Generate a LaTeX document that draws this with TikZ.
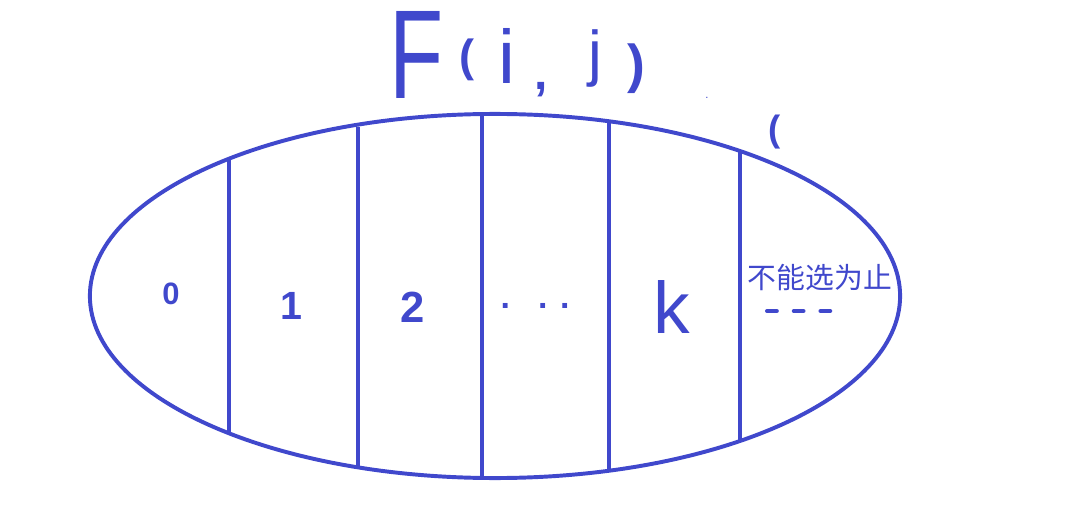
\documentclass[tikz,border=0pt]{standalone}
\usepackage{fontspec}
\setmainfont{Liberation Sans}
\newfontfamily\cjk{Noto Sans CJK SC}
\definecolor{pen}{RGB}{64,72,204}
\newcommand{\fs}[1]{\fontsize{#1}{#1}\selectfont}

\begin{document}
\begin{tikzpicture}[x=0.025cm,y=-0.025cm,line width=2.8pt,pen,every node/.style={inner sep=0pt}]
        \useasboundingbox (0,0) rectangle (1081,532);
        % the set and its parts
        \draw (495,296) ellipse [x radius=10.125cm,y radius=4.55cm];
        \foreach \x/\t/\b in {229/159/433,358/127/467,482/114/480,609/121/471,740/151/441}
            \draw (\x,\t) -- (\x,\b);

        % title
        \node[xscale=0.7] (f) at (417,55) {\fs{90}F};
        \node (lp) at (467,60) {\fs{32}\bfseries(};
        \node (i) at (507,56) {\fs{54}i};
        \node (cm) at (541,90) {\fs{34}\bfseries,};
        \node (j) at (595,59) {\fs{44}j};
        \node (rp) at (636,69) {\fs{38}\bfseries)};
        \node (dot) at (707,98) {\fs{8}.};
        \node (br) at (775,132) {\fs{26}\bfseries(};

        % labels of the parts
        \node (c0) at (171,294) {\fs{22}\bfseries 0};
        \node (c1) at (291,306) {\fs{28}\bfseries 1};
        \node (c2) at (413,307) {\fs{31}\bfseries 2};
        \node (cdots) at (535,306) {\fs{24}\bfseries.\hspace{0.84em}.\hspace{0.37em}.};
        \node (ck) at (672,307) {\fs{52}k};
        \node (note) at (820,278) {\cjk\fs{20.5}不能选为止};
        \coordinate (d1) at (767,311);
        \coordinate (d2) at (835,311);
        \draw[line cap=round,dash pattern=on 7pt off 12pt] (d1) -- (d2);
    \end{tikzpicture}
\end{document}
